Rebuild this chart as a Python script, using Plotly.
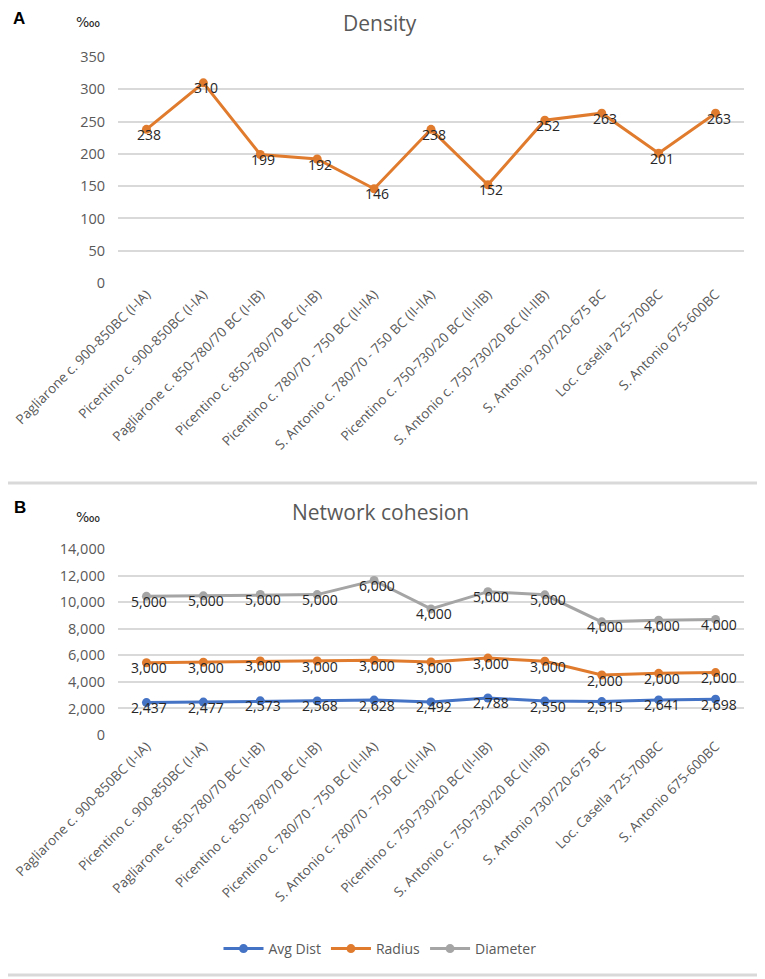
import numpy as np
import plotly.graph_objects as go

categories = [
    "Pagliarone c. 900-850BC (I-IA)",
    "Picentino c. 900-850BC (I-IA)",
    "Pagliarone c. 850-780/70 BC (I-IB)",
    "Picentino c. 850-780/70 BC (I-IB)",
    "Picentino c. 780/70 - 750 BC (II-IIA)",
    "S. Antonio c. 780/70 - 750 BC (II-IIA)",
    "Picentino c. 750-730/20 BC (II-IIB)",
    "S. Antonio c. 750-730/20 BC (II-IIB)",
    "S. Antonio 730/720-675 BC",
    "Loc. Casella 725-700BC",
    "S. Antonio 675-600BC",
]
density = [238, 310, 199, 192, 146, 238, 152, 252, 263, 201, 263]
avg_dist = [2437, 2477, 2573, 2568, 2628, 2492, 2788, 2550, 2515, 2641, 2698]
radius = [3000, 3000, 3000, 3000, 3000, 3000, 3000, 3000, 2000, 2000, 2000]
diameter = [5000, 5000, 5000, 5000, 6000, 4000, 5000, 5000, 4000, 4000, 4000]

W, H = 765, 979
OFF = 8  # page body margin

def py(p):
    return 1 - (p - OFF) / H

def px(p):
    return (p - OFF) / W

FONT = "Open Sans"
BLUE = "#4472C4"
ORANGE = "#E07B2E"
GRAY = "#A5A5A5"
GRID = "#D9D9D9"
TXT = "#595959"
LBL = "#262626"

fig = go.Figure()

def add(trace_y, text, color, name, xa, ya, showlegend):
    fig.add_trace(go.Scatter(
        x=categories, y=trace_y, mode="lines+markers", name=name,
        line=dict(color=color, width=3), marker=dict(color=color, size=9),
        xaxis=xa, yaxis=ya, showlegend=showlegend, cliponaxis=False,
    ))
    for c, v, t in zip(categories, trace_y, text):
        fig.add_annotation(x=c, y=v, xref=xa, yref=ya, text=t, showarrow=False,
                           xanchor="center", yanchor="middle", xshift=3, yshift=-5,
                           font=dict(family=FONT, size=14, color=LBL))

add(density, [str(v) for v in density], ORANGE, "Density", "x", "y", False)

a = np.array(avg_dist)
r = a + np.array(radius)
d = r + np.array(diameter)
add(a, [f"{v:,}" for v in avg_dist], BLUE, "Avg Dist", "x2", "y2", True)
add(r, [f"{v:,}" for v in radius], ORANGE, "Radius", "x2", "y2", True)
add(d, [f"{v:,}" for v in diameter], GRAY, "Diameter", "x2", "y2", True)

xd = [px(118), px(744)]
xcommon = dict(domain=xd, range=[-0.5, 10.5], tickangle=-45, showgrid=False,
               showline=False, zeroline=False, automargin=False,
               tickfont=dict(family=FONT, size=13.5, color=TXT))
ycommon = dict(showgrid=True, gridcolor=GRID, gridwidth=1.5, zeroline=False,
               showline=False, automargin=False,
               tickfont=dict(family=FONT, size=14.5, color=TXT),
               ticklabelstandoff=12)

fig.update_layout(
    width=W, height=H, margin=dict(l=0, r=0, t=0, b=0, autoexpand=False),
    paper_bgcolor="white", plot_bgcolor="white",
    xaxis=dict(**xcommon, anchor="y"),
    yaxis=dict(**ycommon, domain=[py(283), py(57)], range=[0, 350], dtick=50, anchor="x"),
    xaxis2=dict(**xcommon, anchor="y2"),
    yaxis2=dict(**ycommon, domain=[py(735), py(549)], range=[0, 14000], dtick=2000,
                tickformat=",", anchor="x2"),
    legend=dict(orientation="h", x=px(380), xanchor="center", y=py(949), yanchor="middle",
                font=dict(family=FONT, size=14, color=TXT), itemwidth=40,
                traceorder="normal"),
    showlegend=True,
)

fig.add_annotation(text="Density", x=px(380), y=1.0, xref="paper", yref="paper",
                   showarrow=False, xanchor="center", yanchor="top", borderpad=0,
                   font=dict(family=FONT, size=21, color=TXT))
fig.add_annotation(text="Network cohesion", x=px(380), y=py(512), xref="paper", yref="paper",
                   showarrow=False, xanchor="center", yanchor="middle",
                   font=dict(family=FONT, size=21, color=TXT))
fig.add_annotation(text="<b>A</b>", x=px(12), y=1.0, xref="paper", yref="paper",
                   showarrow=False, xanchor="left", yanchor="top", borderpad=0,
                   font=dict(family="Liberation Sans", size=17, color="black"))
fig.add_annotation(text="<b>B</b>", x=px(12), y=py(507), xref="paper", yref="paper",
                   showarrow=False, xanchor="left", yanchor="middle",
                   font=dict(family="Liberation Sans", size=17, color="black"))
for yy in [22, 517]:
    fig.add_annotation(text="‱", x=px(74), y=py(yy), xref="paper", yref="paper",
                       showarrow=False, xanchor="left", yanchor="middle",
                       font=dict(family="DejaVu Sans", size=14, color=LBL))

for yy in [483, 975]:
    fig.add_shape(type="line", xref="paper", yref="paper", x0=px(0), x1=px(762),
                  y0=py(yy), y1=py(yy), line=dict(color=GRID, width=3))

fig.write_html("out.html")
